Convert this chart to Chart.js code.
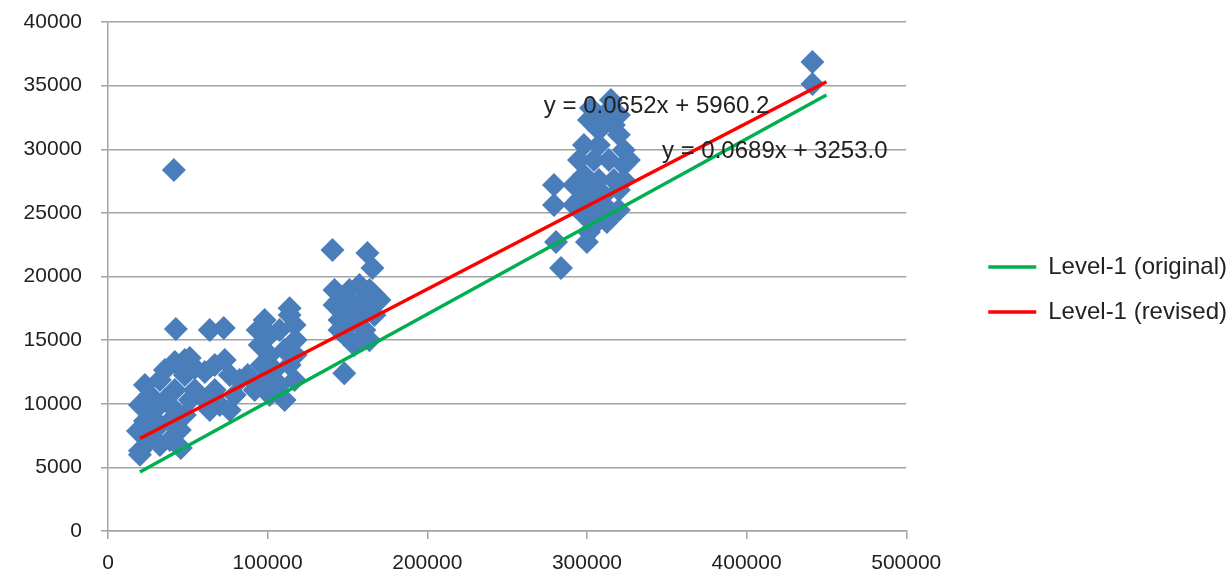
<!DOCTYPE html>
<html>
<head>
<meta charset="utf-8">
<script src="https://cdn.jsdelivr.net/npm/chart.js@4.4.0/dist/chart.umd.min.js"></script>
<style>
  html, body { margin: 0; padding: 0; background: #fff; }
  #wrap { width: 1229px; height: 579px; }
</style>
</head>
<body>
<div id="wrap"><canvas id="c" width="1229" height="579"></canvas></div>
<script>
const ptsX = [
  // grupo ~20k-55k
  20000, 20000, 18750, 23125, 20000, 26250, 23125, 32500, 35625, 41875, 48125, 51250,
  26250, 32500, 38750, 45000, 41875, 51250, 54375, 48125, 35625, 29375, 32500, 45625,
  38750, 48125, 29375, 41875, 54375, 42500, 41250,
  // grupo ~60k-90k
  63750, 72500, 60625, 66875, 73125, 76250, 66875, 60625, 70000, 79375, 82500, 87500,
  76250, 63750,
  // grupo ~95k-120k
  98125, 101250, 95000, 107500, 113750, 116875, 117500, 110625, 101250, 96250, 104375,
  113750, 117500, 98125, 107500, 116875, 110625, 101250, 91875, 113750, 93750,
  // grupo ~140k-170k
  140625, 162500, 165625, 145000, 151250, 157500, 163750, 148125, 154375, 160625, 166875,
  145000, 151250, 157500, 163750, 148125, 157500, 154375, 160625, 148000, 166875, 141875,
  170000, 141875, 145000, 163750,
  // grupo ~280k-325k
  302500, 315000, 307500, 316875, 298125, 307500, 320000, 323125, 295000, 304375, 313750,
  323125, 298125, 307500, 316875, 301250, 310625, 320000, 295000, 304375, 313750, 307500,
  320000, 301250, 300000, 279375, 279375, 280625, 283750, 295000,
  301250, 310625, 320000, 323125, 326250, 298125, 291875, 291875, 315600, 312500,
  // ~440k
  441250, 441250
];
const ptsY = [
  6000, 6300, 7860, 8650, 9900, 10690, 11480, 11870, 12650, 13280, 13440, 13600,
  7150, 6760, 7150, 7940, 9510, 10300, 11080, 12260, 10300, 9510, 8330, 6520,
  8650, 9120, 7940, 11080, 12800, 15880, 28370,
  15800, 15960, 12500, 13050, 13440, 12260, 11080, 10300, 9900, 10690, 11870, 12260,
  9510, 9510,
  16580, 15400, 14620, 15800, 16980, 16190, 15010, 14230, 13830, 13050, 12650,
  13050, 13830, 11870, 11480, 11870, 10300, 10690, 11080, 17500, 15800,
  22090, 21850, 20670, 18160, 18940, 19340, 18940, 17370, 17760, 18160, 18550,
  16580, 16190, 16980, 17370, 15410, 15010, 14620, 15800, 12400, 16980, 17760,
  18160, 18940, 15800, 15000,
  33250, 33880, 31520, 31910, 30340, 30340, 31130, 29950, 29160, 29160, 29160,
  28770, 27980, 27590, 27590, 26800, 26410, 26800, 26020, 25620, 25230, 24440,
  25230, 23500, 22720, 27200, 25620, 22720, 20670, 27200,
  32300, 32700, 32700, 27590, 29160, 24840, 27200, 25620, 25000, 24290,
  36860, 35130
];

// rectas de tendencia (extremos)
const lineX = [20000, 450000];
const origY = [4631, 34258];   // y = 0.0689x + 3253.0
const revY  = [7264, 35300];   // y = 0.0652x + 5960.2

const eqTexts = ["y = 0.0652x + 5960.2", "y = 0.0689x + 3253.0"];
const eqAtX = [273000, 347000];
const eqAtY = [32850, 29300];

const FONT = '"Liberation Sans", Arial, sans-serif';
const GRID = '#a3a3a3';
const BLUE = '#4a7ebb';

const points = ptsX.map((x, i) => ({ x, y: ptsY[i] }));
const origLine = lineX.map((x, i) => ({ x, y: origY[i] }));
const revLine  = lineX.map((x, i) => ({ x, y: revY[i] }));

const eqPlugin = {
  id: 'ecuaciones',
  afterDatasetsDraw(chart){
    const { ctx, scales: { x, y } } = chart;
    ctx.save();
    ctx.font = '24px ' + FONT;
    ctx.fillStyle = '#222';
    ctx.textBaseline = 'alphabetic';
    eqTexts.forEach((t, i) => {
      ctx.fillText(t, x.getPixelForValue(eqAtX[i]), y.getPixelForValue(eqAtY[i]));
    });
    ctx.restore();
  }
};

new Chart(document.getElementById('c'), {
  type: 'scatter',
  data: {
    datasets: [
      {
        label: 'Datos',
        data: points,
        pointStyle: 'rectRot',
        pointRadius: 12,
        pointHoverRadius: 12,
        backgroundColor: BLUE,
        borderColor: BLUE,
        borderWidth: 0,
        order: 3
      },
      {
        type: 'line',
        label: 'Level-1 (original)',
        data: origLine,
        borderColor: '#00b050',
        backgroundColor: '#00b050',
        borderWidth: 3.5,
        pointRadius: 0,
        fill: false,
        order: 2
      },
      {
        type: 'line',
        label: 'Level-1 (revised)',
        data: revLine,
        borderColor: '#ff0000',
        backgroundColor: '#ff0000',
        borderWidth: 3.5,
        pointRadius: 0,
        fill: false,
        order: 1
      }
    ]
  },
  options: {
    responsive: false,
    animation: false,
    devicePixelRatio: 1,
    layout: { padding: { left: 0, top: 0, right: -8, bottom: 0 } },
    plugins: {
      legend: {
        position: 'right',
        labels: {
          filter: (it) => it.datasetIndex > 0,
          sort: (a, b) => a.datasetIndex - b.datasetIndex,
          usePointStyle: true,
          pointStyle: 'line',
          pointStyleWidth: 48,
          boxHeight: 24,
          color: '#222',
          padding: 21,
          font: { family: FONT, size: 24 }
        }
      },
      tooltip: { enabled: false }
    },
    scales: {
      x: {
        type: 'linear',
        min: 0,
        max: 500000,
        afterFit: s => { s.height = 48; },
        ticks: {
          stepSize: 100000,
          color: '#222',
          padding: 12,
          maxRotation: 0,
          font: { family: FONT, size: 21 },
          callback: v => String(v)
        },
        grid: { drawOnChartArea: false, drawTicks: true, tickLength: 8, color: GRID, lineWidth: 1.5 },
        border: { color: GRID, width: 1.5 }
      },
      y: {
        min: 0,
        max: 40000,
        afterFit: s => { s.width = 108; s.paddingTop = 22; },
        ticks: {
          stepSize: 5000,
          color: '#222',
          padding: 19,
          font: { family: FONT, size: 21 },
          callback: v => String(v)
        },
        grid: { color: GRID, lineWidth: 1.5, tickLength: 7 },
        border: { color: GRID, width: 1.5 }
      },
      // hueco entre el área de trazado y la leyenda (no visible)
      gap: {
        type: 'linear',
        position: 'right',
        display: false,
        min: 0,
        max: 1,
        afterFit: s => { s.width = 61; }
      }
    }
  },
  plugins: [eqPlugin]
});
</script>
</body>
</html>
